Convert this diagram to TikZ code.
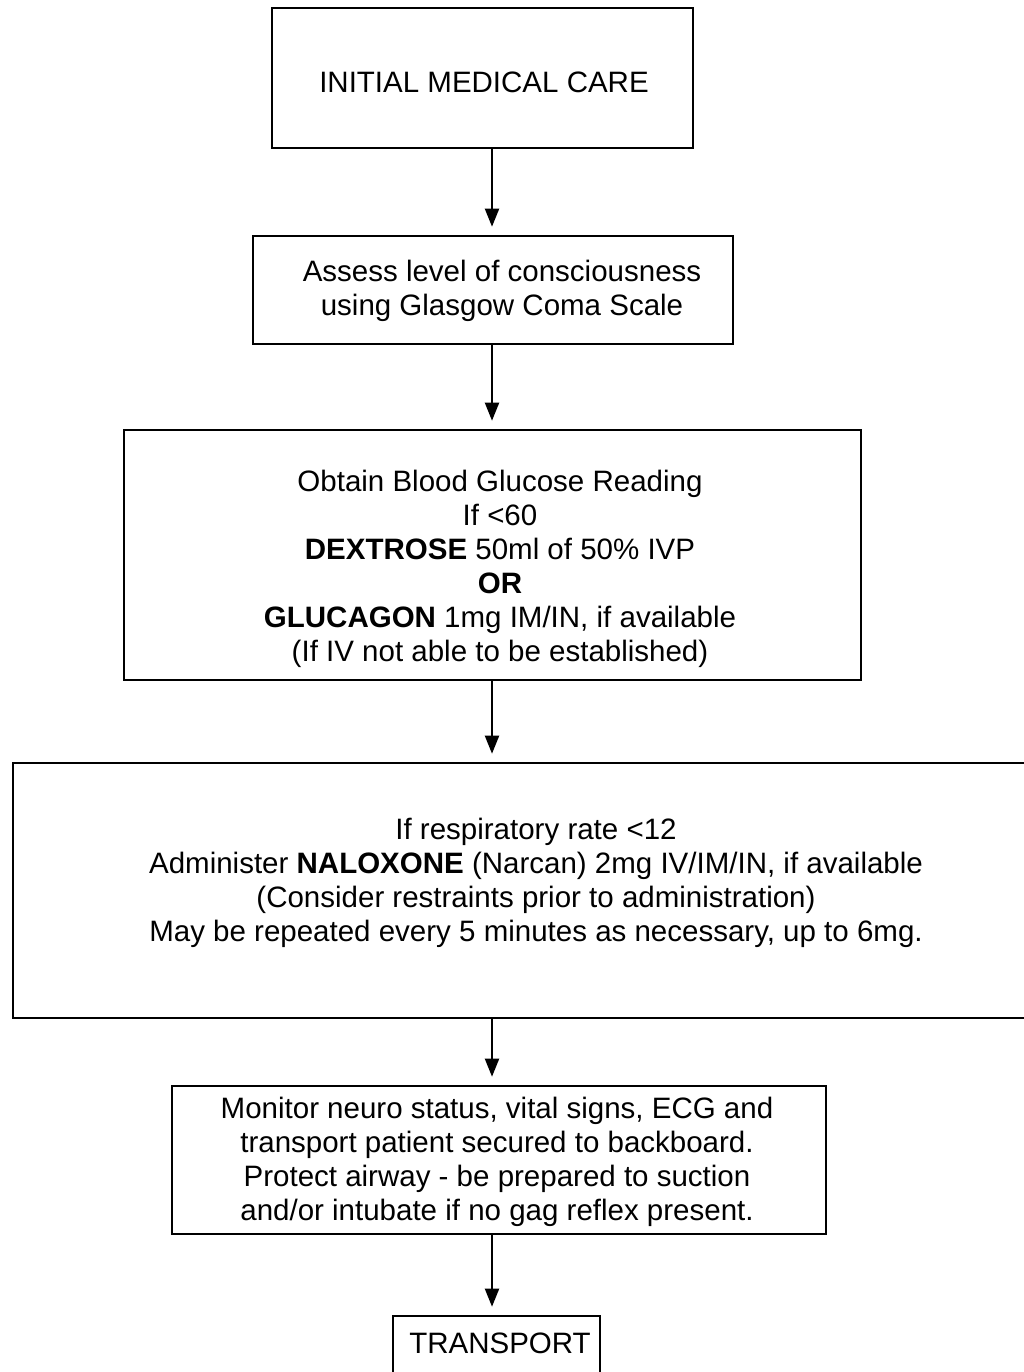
\documentclass[tikz,border=0pt]{standalone}
\usepackage{fontspec}
\setmainfont{Liberation Sans}
\usetikzlibrary{arrows.meta}
\begin{document}
\begin{tikzpicture}[x=1pt,y=-1pt,
  box/.style={draw=black, line width=2.6pt, fill=none, inner sep=0pt},
  txt/.style={align=center, inner sep=0pt, font=\fontsize{29.5}{34}\selectfont},
  flow/.style={line width=2pt, -{Triangle[width=14pt,length=18pt]}, shorten >=8pt}]
  \useasboundingbox (0,0) rectangle (1023,1372);
  % boxes (centre and size in px, y downwards)
  \node[box, minimum width=421pt, minimum height=140pt] (b1) at (482.5,78) {};
  \node[box, minimum width=480pt, minimum height=108pt] (b2) at (493,290) {};
  \node[box, minimum width=737pt, minimum height=250pt] (b3) at (492.5,555) {};
  \node[box, minimum width=1030pt, minimum height=255pt] (b4) at (528,890.5) {};
  \node[box, minimum width=654pt, minimum height=148pt] (b5) at (499,1160) {};
  \node[box, minimum width=207pt, minimum height=110pt] (b6) at (496.5,1371) {};
  % texts
  \node[txt] (t1) at (484,82) {INITIAL MEDICAL CARE};
  \node[txt] (t2) at (502,291) {Assess level of consciousness\\using Glasgow Coma Scale};
  \node[txt] (t3) at (500,569) {Obtain Blood Glucose Reading\\If <60\\\textbf{DEXTROSE} 50ml of 50\% IVP\\\textbf{OR}\\\textbf{GLUCAGON} 1mg IM/IN, if available\\(If IV not able to be established)};
  \node[txt] (t4) at (536,883) {If respiratory rate <12\\Administer \textbf{NALOXONE} (Narcan) 2mg IV/IM/IN, if available\\(Consider restraints prior to administration)\\May be repeated every 5 minutes as necessary, up to 6mg.};
  \node[txt] (t5) at (497,1162) {Monitor neuro status, vital signs, ECG and\\transport patient secured to backboard.\\Protect airway - be prepared to suction\\and/or intubate if no gag reflex present.};
  \node[txt] (t6) at (500,1343) {TRANSPORT};
  % connectors
  \draw[flow] (b1.south -| 492,0) -- (b2.north -| 492,0);
  \draw[flow] (b2.south -| 492,0) -- (b3.north -| 492,0);
  \draw[flow] (b3.south -| 492,0) -- (b4.north -| 492,0);
  \draw[flow] (b4.south -| 492,0) -- (b5.north -| 492,0);
  \draw[flow] (b5.south -| 492,0) -- (b6.north -| 492,0);
\end{tikzpicture}
\end{document}
